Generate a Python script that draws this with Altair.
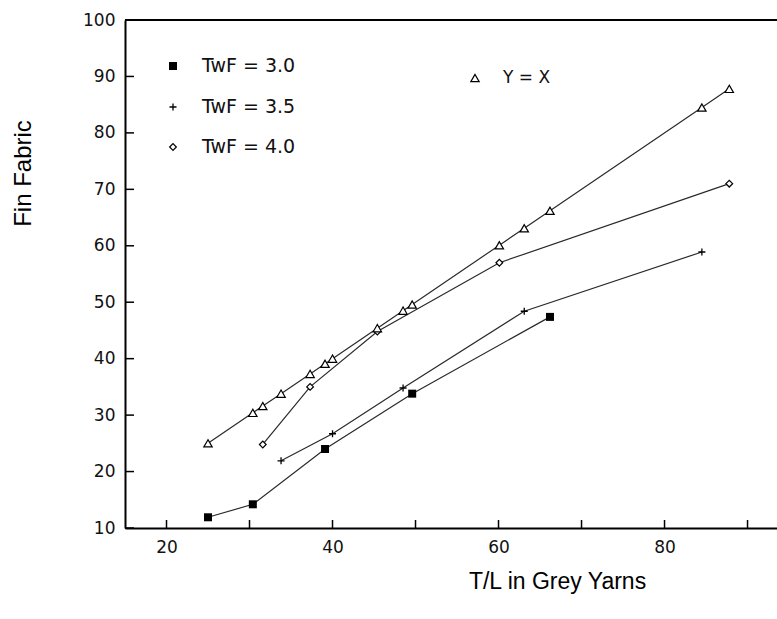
import altair as alt
import pandas as pd

# ---- data ----
sq_x = [25.0, 30.4, 39.1, 49.6, 66.2]
sq_y = [11.9, 14.2, 24.0, 33.8, 47.4]
plus_x = [33.8, 40.0, 48.5, 63.1, 84.5]
plus_y = [21.9, 26.7, 34.8, 48.4, 58.9]
dia_x = [31.6, 37.3, 45.4, 60.1, 87.8]
dia_y = [24.8, 35.0, 44.8, 57.0, 71.0]
tri_x = [25.0, 30.4, 31.6, 33.8, 37.3, 39.1, 40.0, 45.4, 48.5, 49.6, 60.1, 63.1, 66.2, 84.5, 87.8]
tri_y = [25.0, 30.4, 31.6, 33.8, 37.3, 39.1, 40.0, 45.4, 48.5, 49.6, 60.1, 63.1, 66.2, 84.5, 87.8]

series_names = ["TwF = 3.0", "TwF = 3.5", "TwF = 4.0", "Y = X"]
x_ticks = [20, 30, 40, 50, 60, 70, 80, 90]
x_labels = [20, 40, 60, 80]
y_ticks = [10, 20, 30, 40, 50, 60, 70, 80, 90, 100]
x_title = "T/L in Grey Yarns"
y_title = "Fin Fabric"


def frame(name, xs, ys):
    return pd.DataFrame({"series": name, "x": xs, "y": ys})


df_sq = frame(series_names[0], sq_x, sq_y)
df_plus = frame(series_names[1], plus_x, plus_y)
df_dia = frame(series_names[2], dia_x, dia_y)
df_tri = frame(series_names[3], tri_x, tri_y)
all_df = pd.concat([df_sq, df_plus, df_dia, df_tri], ignore_index=True)

W, H = 652, 508
INK = "black"
TICK_FONT = "DejaVu Sans"
TITLE_FONT = "Liberation Sans"

xscale = alt.Scale(domain=[15, 93.55], nice=False, zero=False)
yscale = alt.Scale(domain=[10, 100], nice=False, zero=False)

xaxis = alt.Axis(
    values=x_labels, ticks=False, grid=False,
    domainColor=INK, domainWidth=2,
    labelFont=TICK_FONT, labelFontSize=17, labelColor="#111", labelPadding=11,
    title=x_title, titleFont=TITLE_FONT, titleFontSize=23, titleFontWeight="normal",
    titleColor=INK, titleX=432, titleY=53, titleAlign="center", titleBaseline="middle",
)
yaxis = alt.Axis(
    values=y_ticks, ticks=False, grid=False,
    domainColor=INK, domainWidth=2,
    labelFont=TICK_FONT, labelFontSize=17, labelColor="#111", labelPadding=10,
    title=y_title, titleFont=TITLE_FONT, titleFontSize=24, titleFontWeight="normal",
    titleColor=INK, titleX=-102, titleY=153, titleAngle=270,
    titleAlign="center", titleBaseline="middle",
)

x_enc = alt.X("x:Q", scale=xscale, axis=xaxis)
y_enc = alt.Y("y:Q", scale=yscale, axis=yaxis)

lines = alt.Chart(all_df).mark_line(color="#2a2a2a", strokeWidth=1.2).encode(
    x=x_enc, y=y_enc, detail="series:N", order="x:Q"
)

PLUS = "M-1,0L1,0M0,-1L0,1"

pts_sq = alt.Chart(df_sq).mark_point(shape="square", filled=True, color=INK, size=64, opacity=1).encode(x=x_enc, y=y_enc)
pts_plus = alt.Chart(df_plus).mark_point(shape=PLUS, filled=False, stroke=INK, strokeWidth=1.3, size=49, opacity=1).encode(x=x_enc, y=y_enc)
pts_dia = alt.Chart(df_dia).mark_point(shape="diamond", filled=True, fill="white", stroke=INK, strokeWidth=1.2, size=45, opacity=1).encode(x=x_enc, y=y_enc)
pts_tri = alt.Chart(df_tri).mark_point(shape="triangle-up", filled=True, fill="white", stroke=INK, strokeWidth=1.2, size=70, opacity=1).encode(x=x_enc, y=y_enc)

# inward ticks
xt = alt.Chart(pd.DataFrame({"x": x_ticks})).mark_rule(color=INK, strokeWidth=1.5).encode(
    x=x_enc, y=alt.value(H), y2=alt.value(H - 8)
)
yt = alt.Chart(pd.DataFrame({"y": y_ticks})).mark_rule(color=INK, strokeWidth=1.5).encode(
    y=y_enc, x=alt.value(0), x2=alt.value(9)
)
top = alt.Chart(pd.DataFrame({"a": [0]})).mark_rule(color=INK, strokeWidth=2).encode(
    x=alt.value(0), x2=alt.value(W), y=alt.value(0)
)

# manual legend
one = pd.DataFrame({"a": [0]})
LX, TX = 48, 77
LY = [46, 87, 127]
leg = []
leg.append(alt.Chart(one).mark_point(shape="square", filled=True, color=INK, size=64, opacity=1).encode(x=alt.value(LX), y=alt.value(LY[0])))
leg.append(alt.Chart(one).mark_point(shape=PLUS, filled=False, stroke=INK, strokeWidth=1.3, size=49, opacity=1).encode(x=alt.value(LX), y=alt.value(LY[1])))
leg.append(alt.Chart(one).mark_point(shape="diamond", filled=True, fill="white", stroke=INK, strokeWidth=1.2, size=45, opacity=1).encode(x=alt.value(LX), y=alt.value(LY[2])))
leg.append(alt.Chart(one).mark_point(shape="triangle-up", filled=True, fill="white", stroke=INK, strokeWidth=1.2, size=70, opacity=1).encode(x=alt.value(350), y=alt.value(58)))
for i in range(3):
    leg.append(alt.Chart(one).mark_text(align="left", baseline="middle", font=TICK_FONT, fontSize=19, color="#111").encode(
        x=alt.value(TX), y=alt.value(LY[i]), text=alt.value(series_names[i])))
leg.append(alt.Chart(one).mark_text(align="left", baseline="middle", font=TICK_FONT, fontSize=17, color="#111").encode(
    x=alt.value(378), y=alt.value(58), text=alt.value(series_names[3])))

chart = alt.layer(lines, xt, yt, top, pts_sq, pts_plus, pts_dia, pts_tri, *leg).properties(
    width=W, height=H,
    padding={"left": 125, "top": 20, "right": 0, "bottom": 91},
    autosize="none",
).configure_view(stroke=None)

chart.save("out.html", embed_options={"renderer": "svg", "actions": False})
